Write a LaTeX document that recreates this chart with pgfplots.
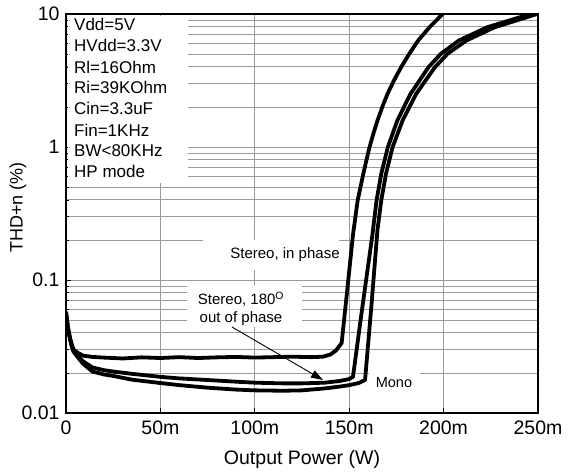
\documentclass[border=0pt]{standalone}
\usepackage{fontspec}
\setmainfont{Liberation Sans}
\usepackage{pgfplots}
\pgfplotsset{compat=1.18}
\usetikzlibrary{arrows.meta}
\definecolor{gridgray}{RGB}{155,155,155}

% THD+n vs output power, x in mW
\pgfplotstableread{
x y
0 0.057
0.5 0.050
1 0.044
2 0.037
3 0.033
4 0.030
6 0.0285
9 0.027
14 0.0264
20 0.0261
30 0.0257
40 0.0262
50 0.0259
60 0.0263
70 0.0259
80 0.0262
90 0.0264
100 0.0261
110 0.0263
120 0.0265
130 0.0263
136 0.0265
140 0.0275
143 0.0295
146 0.0336
149 0.085
152 0.219
154.5 0.398
157.5 0.631
159.1 0.794
160.8 1.0
162.8 1.259
165 1.585
167.5 1.995
170.3 2.512
173.7 3.162
177.5 3.981
181.8 5.012
186.5 6.31
192.5 7.943
199.5 10
}\inphase

\pgfplotstableread{
x y
0 0.057
0.5 0.050
1 0.044
2 0.037
3 0.032
4 0.029
6 0.027
9 0.0245
14 0.022
20 0.021
25 0.0205
35 0.0197
50 0.0187
60 0.0182
75 0.0177
90 0.0172
100 0.0169
115 0.0167
125 0.0167
137 0.0169
145 0.0174
150 0.018
152 0.0187
157 0.063
162.3 0.219
164.5 0.398
167 0.631
170.5 1.0
175.5 1.585
182.5 2.512
192 3.981
198.5 5.012
208 6.31
223 7.943
246 10
}\outphase

\pgfplotstableread{
x y
0 0.057
0.5 0.050
1 0.044
2 0.037
3 0.032
4 0.029
6 0.0265
9 0.0235
14 0.0205
20 0.0195
25 0.019
35 0.0178
50 0.0168
60 0.0162
75 0.0155
90 0.015
100 0.0148
115 0.0147
125 0.0148
137 0.0153
145 0.0158
150 0.0162
155 0.0168
158.4 0.0177
161.8 0.065
165 0.24
167 0.398
169.5 0.631
173 1.0
178.3 1.585
185.5 2.512
195.4 3.981
202 5.012
212 6.31
227 7.943
249.5 10
}\mono

\begin{document}
\begin{tikzpicture}
\begin{axis}[
  scale only axis,
  width=472bp, height=399bp,
  xmin=0, xmax=250,
  ymode=log, ymin=0.01, ymax=10,
  xtick={0,50,100,150,200,250},
  xticklabels={0,50m,100m,150m,200m,250m},
  ytick={0.01,0.1,1,10},
  yticklabels={0.01,0.1,1,10},
  xmajorgrids, ymajorgrids, yminorgrids,
  grid style={gridgray, line width=0.9bp},
  minor grid style={gridgray, line width=0.9bp},
  tick pos=left, tick align=inside,
  major tick length=5bp, minor tick length=3bp,
  tick style={black, line width=0.8bp},
  axis line style={line width=2.4bp},
  ticklabel style={font=\fontsize{19.5bp}{22bp}\selectfont},
  xticklabel style={yshift=-4bp},
  yticklabel style={xshift=-3bp},
  /pgf/number format/assume math mode=true,
  xlabel={Output Power (W)},
  ylabel={THD+n (\%)},
  xlabel style={font=\fontsize{19.5bp}{22bp}\selectfont,
    at={(axis description cs:0.5,-0.1303)}, anchor=base},
  ylabel style={font=\fontsize{18bp}{21bp}\selectfont,
    at={(axis description cs:-0.1017,0.515)}, anchor=center},
]
% white patches behind the annotations
\fill[white] (rel axis cs:0.004,0.5764) rectangle (rel axis cs:0.2585,0.996);
\fill[white] (rel axis cs:0.2903,0.3584) rectangle (rel axis cs:0.5784,0.4336);
\fill[white] (rel axis cs:0.2564,0.2155) rectangle (rel axis cs:0.5,0.3208);
\fill[white] (rel axis cs:0.641,0.040) rectangle (rel axis cs:0.75,0.113);

\addplot[black, line width=3.8bp, line join=round, line cap=round] table {\inphase};
\addplot[black, line width=3.8bp, line join=round, line cap=round] table {\outphase};
\addplot[black, line width=3.8bp, line join=round, line cap=round] table {\mono};

\node[anchor=base west, inner sep=0pt, font=\fontsize{17bp}{20bp}\selectfont] at (rel axis cs:0.01695,0.9574) {Vdd=5V};
\node[anchor=base west, inner sep=0pt, font=\fontsize{17bp}{20bp}\selectfont] at (rel axis cs:0.01695,0.9048) {HVdd=3.3V};
\node[anchor=base west, inner sep=0pt, font=\fontsize{17bp}{20bp}\selectfont] at (rel axis cs:0.01695,0.8521) {Rl=16Ohm};
\node[anchor=base west, inner sep=0pt, font=\fontsize{17bp}{20bp}\selectfont] at (rel axis cs:0.01695,0.7995) {Ri=39KOhm};
\node[anchor=base west, inner sep=0pt, font=\fontsize{17bp}{20bp}\selectfont] at (rel axis cs:0.01695,0.7469) {Cin=3.3uF};
\node[anchor=base west, inner sep=0pt, font=\fontsize{17bp}{20bp}\selectfont] at (rel axis cs:0.01695,0.6942) {Fin=1KHz};
\node[anchor=base west, inner sep=0pt, font=\fontsize{17bp}{20bp}\selectfont] at (rel axis cs:0.01695,0.6416) {BW<80KHz};
\node[anchor=base west, inner sep=0pt, font=\fontsize{17bp}{20bp}\selectfont] at (rel axis cs:0.01695,0.5890) {HP mode};

\node[anchor=base, inner sep=0pt, font=\fontsize{15bp}{18bp}\selectfont]
  at (rel axis cs:0.464,0.3874) {Stereo, in phase};
\node[anchor=base, inner sep=0pt, font=\fontsize{15bp}{18bp}\selectfont]
  at (rel axis cs:0.3708,0.2707) {Stereo, 180\textsuperscript{O}};
\node[anchor=base, inner sep=0pt, font=\fontsize{15bp}{18bp}\selectfont]
  at (rel axis cs:0.3708,0.2256) {out of phase};
\node[anchor=base, inner sep=0pt, font=\fontsize{14.5bp}{17bp}\selectfont]
  at (rel axis cs:0.6949,0.0627) {Mono};
\draw[line width=0.9bp, -{Triangle[length=12bp,width=8bp]}]
  (rel axis cs:0.3517,0.2155) -- (rel axis cs:0.5445,0.0827);

\draw[line width=2.4bp] (rel axis cs:0,0) rectangle (rel axis cs:1,1);
\coordinate (sw) at (rel axis cs:0,0);
\coordinate (ne) at (rel axis cs:1,1);
\end{axis}
\pgfresetboundingbox
\path[use as bounding box] ([shift={(-66bp,-59bp)}]sw) rectangle ([shift={(30bp,14bp)}]ne);
\end{tikzpicture}
\end{document}
